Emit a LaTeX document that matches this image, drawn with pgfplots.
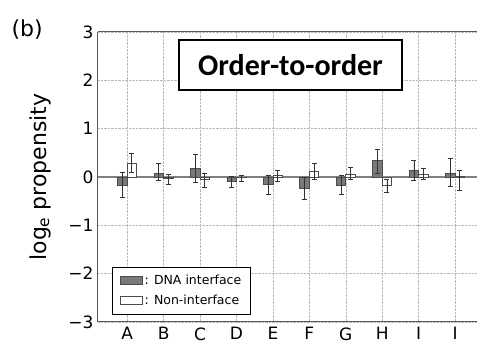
\documentclass[border=0pt]{standalone}
\usepackage{pgfplots}
\pgfplotsset{compat=1.18}
\usepackage{pgfplotstable}
\usepackage{fontspec}
\setmainfont{DejaVu Sans}
\newfontfamily\carlito{Carlito}

\pgfplotstableread{
x y ep em
0 -0.17 0.27 0.25
1 0.08 0.19 0.16
2 0.17 0.29 0.29
3 -0.10 0.12 0.12
4 -0.16 0.20 0.21
5 -0.24 0.24 0.23
6 -0.17 0.21 0.20
7 0.34 0.22 0.27
8 0.13 0.22 0.20
9 0.08 0.31 0.27
}\dnatab
\pgfplotstableread{
x y ep em
0 0.28 0.20 0.19
1 -0.02 0.07 0.13
2 -0.05 0.13 0.17
3 -0.01 0.05 0.09
4 0.04 0.10 0.14
5 0.12 0.17 0.17
6 0.05 0.14 0.11
7 -0.18 0.13 0.15
8 0.06 0.12 0.11
9 0.01 0.13 0.28
}\nontab

\begin{document}
\begin{tikzpicture}
\begin{axis}[
  name=ax,
  scale only axis,
  width=379pt, height=290pt,
  xmin=-0.8, xmax=9.6,
  ymin=-3, ymax=3,
  axis x line=box, axis y line=left,
  axis line style={-, black!65, line width=1pt},
  xtick={0,...,9},
  xticklabels={A,B,C,D,E,F,G,H,I,I},
  ytick={-3,-2,-1,0,1,2,3},
  yticklabels={−3,−2,−1,0,1,2,3},
  major tick length=0pt,
  tick label style={font=\fontsize{17}{20}\selectfont},
  yticklabel style={xshift=-1pt},
  xticklabel style={yshift=-2pt},
  grid=major,
  major grid style={densely dotted, gray!55, line width=0.5pt},
  ylabel={log\textsubscript{e} propensity},
  ylabel style={at={(axis description cs:-0.153,0.5)}, anchor=center, font=\fontsize{22}{26}\selectfont},
  legend style={at={(axis description cs:0.037,0.024)}, anchor=south west,
    draw=black, line width=1.2pt, font=\fontsize{12.5}{15}\selectfont,
    row sep=5pt, inner xsep=7pt, inner ysep=6pt},
  legend cell align=left,
  legend image code/.code={\draw[#1, line width=0.9pt] (0pt,-4pt) rectangle (22pt,4pt);},
  clip=false,
]
\addplot[forget plot, gray, line width=1.3pt] coordinates {(-0.8,0) (9.6,0)};
\addplot[ybar, bar width=9.5pt, bar shift=0pt, fill=gray!95!black, draw=black!70, line width=0.8pt,
  error bars/.cd, y dir=both, y explicit, error bar style={black!80, line width=0.9pt},
  error mark options={rotate=90, mark size=2.5pt, line width=0.9pt, black!80}]
  table[x expr=\thisrow{x}-0.13, y=y, y error plus=ep, y error minus=em] {\dnatab};
\addlegendentry{: DNA interface}
\addplot[ybar, bar width=9.5pt, bar shift=0pt, fill=white, draw=black!70, line width=0.8pt,
  error bars/.cd, y dir=both, y explicit, error bar style={black!80, line width=0.9pt},
  error mark options={rotate=90, mark size=2.5pt, line width=0.9pt, black!80}]
  table[x expr=\thisrow{x}+0.13, y=y, y error plus=ep, y error minus=em] {\nontab};
\addlegendentry{: Non-interface}
\node[draw=black, line width=2pt, fill=white, minimum width=223pt, minimum height=50pt, inner sep=0pt,
  font=\carlito\bfseries\fontsize{30}{34}\selectfont] at (axis description cs:0.508,0.886) {Order-to-order};
\node[font=\fontsize{22}{26}\selectfont] at (axis description cs:-0.187,1.01) {(b)};
\end{axis}
\pgfresetboundingbox
\useasboundingbox ([xshift=-98pt,yshift=-25pt]ax.south west) rectangle ([yshift=32pt]ax.north east);
\end{tikzpicture}
\end{document}
